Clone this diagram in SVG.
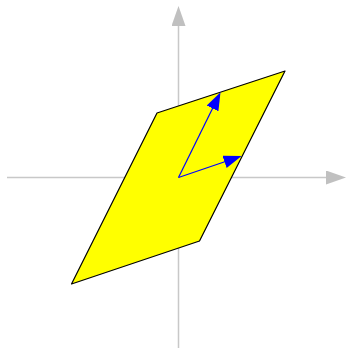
<svg xmlns="http://www.w3.org/2000/svg" width="349" height="348" viewBox="0 0 349 348">
<style>
.axis{stroke:#c8c8c8;stroke-width:1.5;fill:none}
.vec{stroke:#0000ff;stroke-width:1.2;fill:none}
.shape{fill:#ffff00;stroke:#000;stroke-width:1.2;stroke-linejoin:round}
</style>
<defs>
<marker id="axhead" markerUnits="userSpaceOnUse" markerWidth="20" markerHeight="14" refX="0" refY="7" orient="auto" viewBox="0 0 20 14">
<path d="M0,0 L20,7 L0,14 Z" fill="#c0c0c0"/>
</marker>
<marker id="vhead" markerUnits="userSpaceOnUse" markerWidth="18" markerHeight="13" refX="1" refY="6.5" orient="auto" viewBox="0 0 18 13">
<path d="M0,0 L18,6.5 L0,13 Z" fill="#0000ff"/>
</marker>
</defs>
<g id="axes">
<line class="axis" x1="7" y1="177.5" x2="326" y2="177.5" marker-end="url(#axhead)"/>
<line class="axis" x1="178.5" y1="348" x2="178.5" y2="26" marker-end="url(#axhead)"/>
</g>
<g id="parallelogram">
<polygon class="shape" points="157,113 285,71 199.5,241 71.5,284"/>
</g>
<g id="connectors">
<line class="vec" x1="178.5" y1="177.5" x2="213" y2="107.5" marker-end="url(#vhead)"/>
<line class="vec" x1="178.5" y1="177.5" x2="225.5" y2="161.5" marker-end="url(#vhead)"/>
</g>
</svg>
